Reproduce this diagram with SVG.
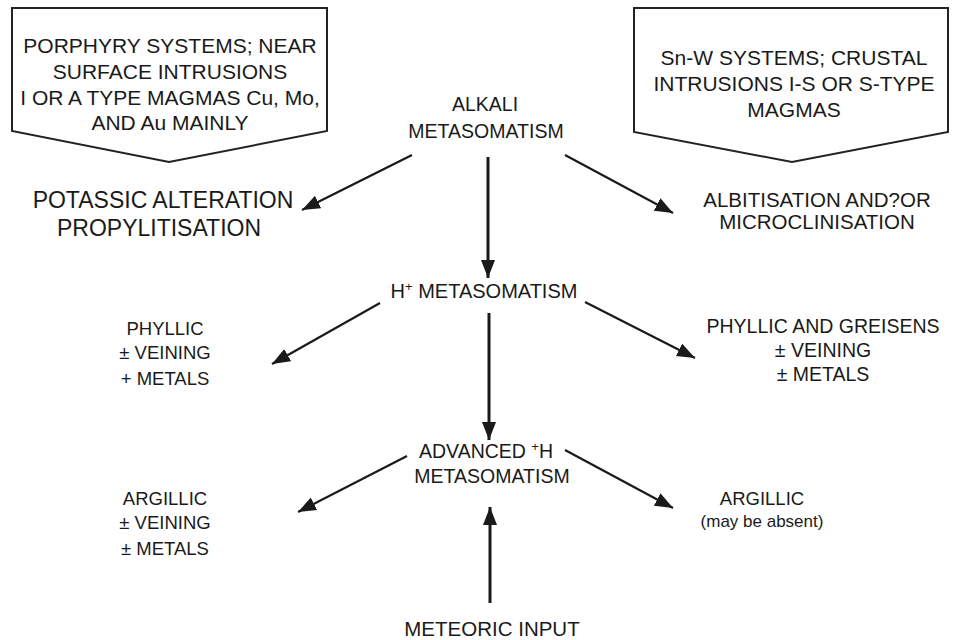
<svg xmlns="http://www.w3.org/2000/svg" width="963" height="640" viewBox="0 0 963 640">
<style>
text{font-family:"Liberation Sans",Arial,sans-serif;fill:#1a1a1a;text-anchor:middle}
.box{fill:#fff;stroke:#222;stroke-width:2}
.bx{font-size:21px}
.lb{font-size:18.5px}
.md{font-size:19.5px}
.lg{font-size:20.5px}
.big{font-size:23px}
.sm{font-size:17px}
.c{stroke:#1a1a1a;stroke-width:2.2;fill:none}
.v{stroke:#1a1a1a;stroke-width:3;fill:none}
</style>
<defs>
<marker id="ah" markerUnits="userSpaceOnUse" markerWidth="20" markerHeight="16" refX="18" refY="7" orient="auto">
<path d="M0,0 L18,7 L0,14 Z" fill="#1a1a1a"/>
</marker>
</defs>
<rect width="963" height="640" fill="#fff"/>
<g id="porphyry">
<path class="box" d="M12,8 L327,8 L327,131 L169,162 L12,131 Z"/>
<text class="bx" x="170" y="53">PORPHYRY SYSTEMS; NEAR</text>
<text class="bx" x="170" y="79">SURFACE INTRUSIONS</text>
<text class="bx" x="170" y="105">I OR A TYPE MAGMAS Cu, Mo,</text>
<text class="bx" x="170" y="130">AND Au MAINLY</text>
</g>
<g id="snw">
<path class="box" d="M634,8 L948,8 L948,132 L792,162 L634,132 Z"/>
<text class="bx" x="794" y="65">Sn-W SYSTEMS; CRUSTAL</text>
<text class="bx" x="794" y="91">INTRUSIONS I-S OR S-TYPE</text>
<text class="bx" x="794" y="117">MAGMAS</text>
</g>
<g id="alkali">
<text class="md" x="485" y="111">ALKALI</text>
<text class="md" x="486" y="138">METASOMATISM</text>
</g>
<g id="potassic">
<text class="big" x="163" y="208">POTASSIC ALTERATION</text>
<text class="big" x="159" y="236">PROPYLITISATION</text>
</g>
<g id="albitisation">
<text class="lg" x="817" y="207">ALBITISATION AND?OR</text>
<text class="lg" x="817" y="229">MICROCLINISATION</text>
</g>
<g id="hplus">
<text style="font-size:20px" x="484" y="298">H<tspan font-size="13" dy="-7">+</tspan><tspan dy="7"> METASOMATISM</tspan></text>
</g>
<g id="phyllic-left">
<text class="lb" x="165" y="335">PHYLLIC</text>
<text class="lb" x="165" y="359">± VEINING</text>
<text class="lb" x="165" y="385">+ METALS</text>
</g>
<g id="phyllic-right">
<text class="md" x="823" y="333">PHYLLIC AND GREISENS</text>
<text class="md" x="823" y="357">± VEINING</text>
<text class="md" x="823" y="381">± METALS</text>
</g>
<g id="advanced">
<text class="md" x="486" y="458">ADVANCED <tspan font-size="13" dy="-7">+</tspan><tspan dy="7">H</tspan></text>
<text class="md" x="492" y="483">METASOMATISM</text>
</g>
<g id="argillic-left">
<text class="lb" x="165" y="505">ARGILLIC</text>
<text class="lb" x="165" y="529">± VEINING</text>
<text class="lb" x="165" y="555">± METALS</text>
</g>
<g id="argillic-right">
<text class="lb" x="762" y="505">ARGILLIC</text>
<text class="sm" x="762" y="527">(may be absent)</text>
</g>
<g id="meteoric">
<text class="lg" x="492" y="636">METEORIC INPUT</text>
</g>
<g id="connectors">
<line class="v" x1="488" y1="157" x2="488" y2="278" marker-end="url(#ah)"/>
<line class="c" x1="412" y1="155" x2="302" y2="210" marker-end="url(#ah)"/>
<line class="c" x1="565" y1="155" x2="673" y2="213" marker-end="url(#ah)"/>
<line class="v" x1="489" y1="313" x2="489" y2="440" marker-end="url(#ah)"/>
<line class="c" x1="380" y1="303" x2="272" y2="364" marker-end="url(#ah)"/>
<line class="c" x1="585" y1="302" x2="695" y2="358" marker-end="url(#ah)"/>
<line class="c" x1="407" y1="456" x2="298" y2="512" marker-end="url(#ah)"/>
<line class="c" x1="565" y1="450" x2="673" y2="508" marker-end="url(#ah)"/>
<line class="v" x1="490" y1="603" x2="490" y2="507" marker-end="url(#ah)"/>
</g>
</svg>
